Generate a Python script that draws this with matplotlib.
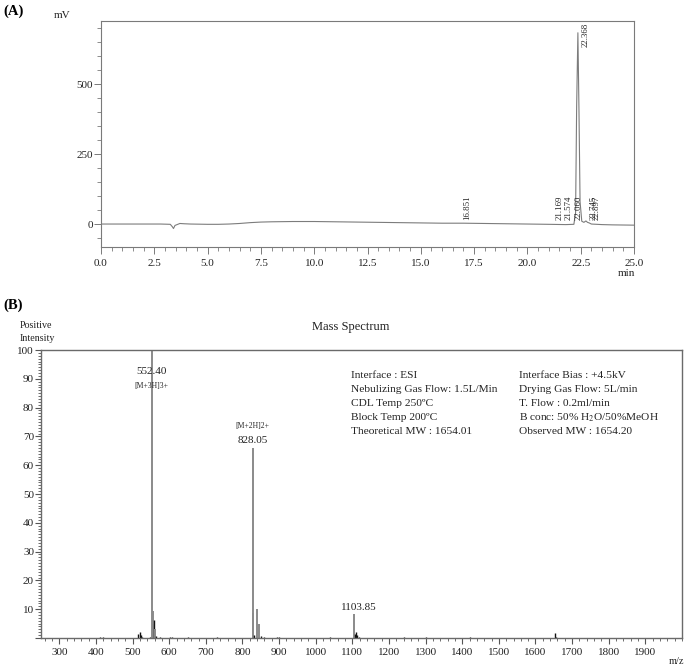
import matplotlib
matplotlib.use("Agg")
import matplotlib.pyplot as plt
from matplotlib.ticker import MultipleLocator, FixedLocator

plt.rcParams['font.family'] = ['Liberation Serif', 'DejaVu Serif']
plt.rcParams['mathtext.fontset'] = 'stix'

# ---------------- Data: (A) HPLC chromatogram ----------------
chrom_time = [0.0, 2.0, 2.8, 3.25, 3.35, 3.4, 3.47, 3.7, 3.9, 4.2, 5.0, 5.5, 6.0, 6.5,
              7.0, 7.5, 8.0, 9.0, 10.0, 11.0, 12.0, 13.0, 14.0, 15.0, 16.0, 17.0,
              18.0, 19.0, 20.0, 21.0, 21.8, 22.18, 22.26, 22.31, 22.368, 22.42,
              22.47, 22.55, 22.65, 22.745, 22.82, 22.897, 23.0, 23.5, 24.0, 25.0]
chrom_mv = [0, 0, 0, -1, -10, -16, -5, 2, 1, 0, -1, -1, 0, 2,
            5, 7, 8, 9, 9, 8, 7, 6, 5, 4, 3, 3,
            2, 1, 0, -1, -2, -1, 40, 420, 683, 400,
            80, 10, 6, 11, 6, 4, 0, -2, -3, -4]
peak_times = [16.851, 21.169, 21.574, 22.060, 22.368, 22.745, 22.897]
peak_labels = ["16.851", "21.169", "21.574", "22.060", "22.368", "22.745", "22.897"]

# ---------------- Data: (B) Mass spectrum ----------------
ms_mz = [412, 420, 515, 519, 523, 527, 548, 552.40, 555, 556.5, 558, 561.5, 565, 575,
         602, 608, 650, 730, 828.05, 829.5, 831, 838.5, 845, 851, 858, 895, 900,
         1040, 1103.85, 1106, 1109, 1113, 1118, 1240, 1300, 1420, 1654, 1657]
ms_int = [0.5, 0.4, 1.5, 2.0, 1.2, 0.5, 0.5, 100, 4.8, 9.5, 6.1, 3.1, 0.8, 0.4,
          0.5, 0.3, 0.2, 0.3, 66, 8.6, 1.0, 10, 4.9, 0.8, 0.5, 0.3, 0.4,
          0.2, 8.4, 1.5, 2.0, 1.0, 0.5, 0.3, 0.2, 0.2, 1.7, 0.5]
ms_gray = [552.40, 556.5, 561.5, 828.05, 829.5, 838.5, 845, 1103.85]

info_left = ["Interface : ESI", "Nebulizing Gas Flow: 1.5L/Min", "CDL Temp 250\u00baC",
             "Block Temp 200\u00baC", "Theoretical MW : 1654.01"]
info_right = ["Interface Bias : +4.5kV", "Drying Gas Flow: 5L/min", "T. Flow : 0.2ml/min",
              r"B conc: 50% H$_2$O/50%MeOH", "Observed MW : 1654.20"]

W, H = 685, 668
fig = plt.figure(figsize=(W / 100, H / 100), dpi=100)

def fx(px):
    return px / W

def fy(py):
    return 1 - py / H

axis_col = '#7a7a7a'
txt_col = '#222222'

# ---------------- Panel A ----------------
axA = fig.add_axes([fx(101), fy(247), fx(634) - fx(101), fy(21) - fy(247)])
axA.plot(chrom_time, chrom_mv, color='#7c7c7c', lw=0.8)
axA.set_xlim(0, 25)
axA.set_ylim(-82, 725)
axA.xaxis.set_major_locator(MultipleLocator(2.5))
axA.xaxis.set_minor_locator(MultipleLocator(0.5))
axA.yaxis.set_major_locator(FixedLocator([0, 250, 500]))
axA.yaxis.set_minor_locator(MultipleLocator(50))
axA.xaxis.set_major_formatter(matplotlib.ticker.FormatStrFormatter('%.1f'))
for s in axA.spines.values():
    s.set_color(axis_col)
    s.set_linewidth(0.8)
axA.tick_params(axis='both', which='major', labelsize=8, colors=axis_col,
                labelcolor=txt_col, length=5, width=0.7, direction='out')
axA.tick_params(axis='both', which='minor', colors=axis_col, length=3, width=0.6,
                direction='out')
axA.tick_params(axis='y', pad=1)
for t, lab in zip(peak_times, peak_labels):
    if lab == "22.368":
        axA.text(t + 0.36, 718, lab, rotation=90, ha='center', va='top',
                 fontsize=6.3, color=txt_col)
    else:
        axA.text(t + 0.34, 13, lab, rotation=90, ha='center', va='bottom',
                 fontsize=6.3, color=txt_col)

fig.text(fx(3), fy(11), "(A)", fontsize=10.5, fontweight='bold', va='center', ha='left')
fig.text(fx(54), fy(16), "mV", fontsize=8, va='center', ha='left', color=txt_col)
fig.text(fx(626), fy(273), "min", fontsize=8, va='center', ha='center', color=txt_col)

# ---------------- Panel B ----------------
axB = fig.add_axes([fx(41), fy(638), fx(682) - fx(41), fy(350) - fy(638)])
for mz, inten in zip(ms_mz, ms_int):
    col = '#8a8a8a' if mz in ms_gray else '#111111'
    lw = 1.4 if mz in ms_gray else 1.0
    axB.vlines(mz, 0, inten, color=col, lw=lw)
axB.set_xlim(250, 2000)
axB.set_ylim(0, 100)
axB.xaxis.set_major_locator(FixedLocator(list(range(300, 2000, 100))))
axB.xaxis.set_minor_locator(MultipleLocator(20))
axB.yaxis.set_major_locator(MultipleLocator(10))
axB.yaxis.set_minor_locator(MultipleLocator(1))
axB.yaxis.set_major_formatter(matplotlib.ticker.FuncFormatter(
    lambda v, p: '' if v == 0 else '%d' % v))
for s in axB.spines.values():
    s.set_color('#6a6a6a')
    s.set_linewidth(1.0)
axB.tick_params(axis='both', which='major', labelsize=8, colors='#555555',
                labelcolor=txt_col, length=4, width=0.8, direction='out')
axB.tick_params(axis='both', which='minor', colors='#555555', length=2, width=0.6,
                direction='out')
axB.tick_params(axis='y', pad=1)

axB.text(552.40, 92.5, "552.40", fontsize=8, ha='center', va='center', color=txt_col)
axB.text(552.40, 87.5, "[M+3H]3+", fontsize=5.5, ha='center', va='center', color=txt_col)
axB.text(828.05, 73.5, "[M+2H]2+", fontsize=5.5, ha='center', va='center', color=txt_col)
axB.text(828.05, 68.5, "828.05", fontsize=8, ha='center', va='center', color=txt_col)
axB.text(1118, 10.5, "1103.85", fontsize=8, ha='center', va='center', color=txt_col)

for i, line in enumerate(info_left):
    fig.text(fx(351), fy(376 + 14 * i), line, fontsize=8.2, va='center', ha='left',
             color=txt_col)
for i, line in enumerate(info_right):
    fig.text(fx(519), fy(376 + 14 * i), line, fontsize=8.2, va='center', ha='left',
             color=txt_col)

fig.text(fx(3), fy(305), "(B)", fontsize=10.5, fontweight='bold', va='center', ha='left')
fig.text(fx(20), fy(326), "Positive", fontsize=7.2, va='center', ha='left', color=txt_col)
fig.text(fx(20), fy(338), "Intensity", fontsize=7.2, va='center', ha='left', color=txt_col)
fig.text(fx(351), fy(327), "Mass Spectrum", fontsize=9, va='center', ha='center', color=txt_col)
fig.text(fx(676), fy(662), "m/z", fontsize=7.5, va='center', ha='center', color=txt_col)

fig.savefig("out.png", dpi=100)
